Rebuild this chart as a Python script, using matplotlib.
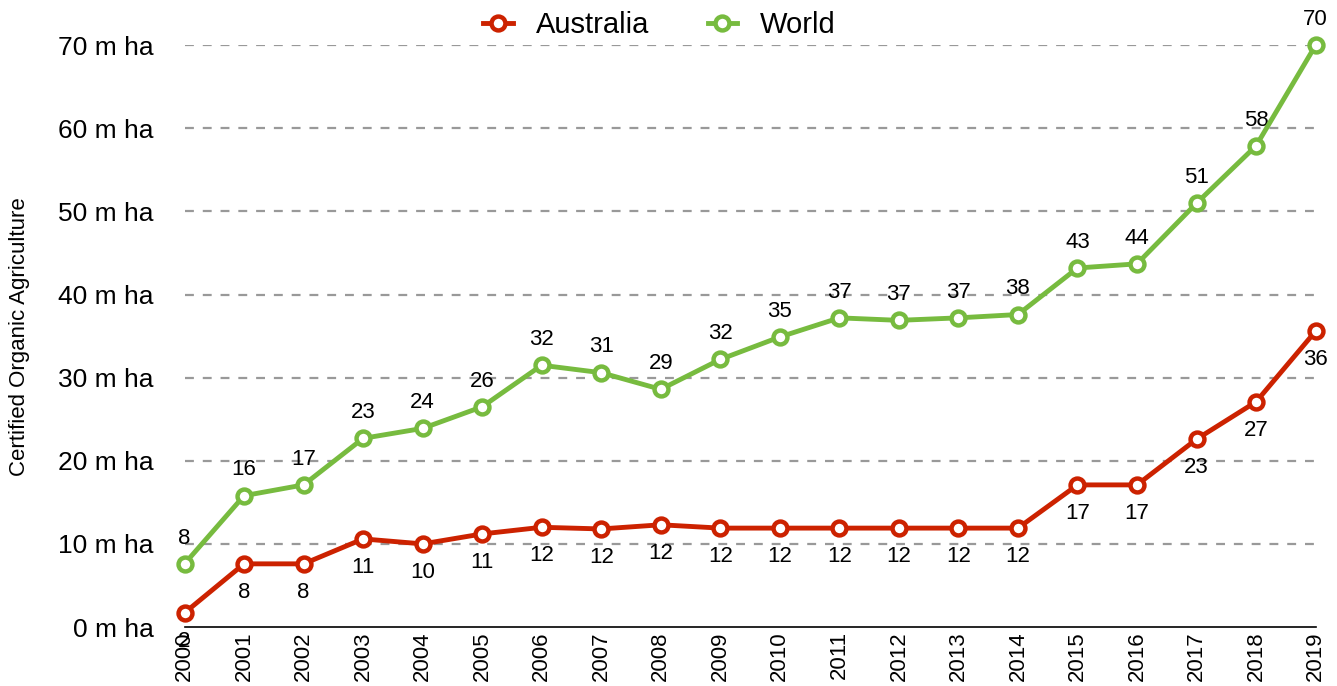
import numpy as np
import matplotlib.pyplot as plt

years = list(range(2000, 2020))
australia = [1.7, 7.6, 7.6, 10.6, 10.0, 11.2, 12.0, 11.8, 12.3, 11.9,
             11.9, 11.9, 11.9, 11.9, 11.9, 17.1, 17.1, 22.6, 27.1, 35.6]
world = [7.6, 15.8, 17.1, 22.7, 23.9, 26.5, 31.5, 30.6, 28.6, 32.2,
         34.9, 37.2, 36.9, 37.2, 37.6, 43.2, 43.7, 51.0, 57.9, 70.0]
yticks = [0, 10, 20, 30, 40, 50, 60, 70]
ytick_labels = ['%d m ha' % v for v in yticks]

RED = '#cc2200'
GREEN = '#77bb3f'

plt.rcParams['font.family'] = ['Liberation Sans', 'DejaVu Sans']

fig = plt.figure(figsize=(13.37, 6.86), dpi=100)
ax = fig.add_axes([0.138, 0.086, 0.846, 0.848])

for vals, col, name in [(australia, RED, 'Australia'), (world, GREEN, 'World')]:
	ax.plot(years, vals, color=col, lw=3.5, marker='o', ms=10,
		mfc='white', mec=col, mew=3.2, clip_on=False, zorder=3, label=name)

# value labels: australia below, world above
for x, v in zip(years, australia):
	ax.annotate('%d' % round(v), (x, v), xytext=(0, -13), textcoords='offset points',
		ha='center', va='top', fontsize=16, zorder=2)
for x, v in zip(years, world):
	ax.annotate('%d' % round(v), (x, v), xytext=(0, 11), textcoords='offset points',
		ha='center', va='bottom', fontsize=16, zorder=2)

ax.set_xlim(2000, 2019)
ax.set_ylim(0, 70)
ax.set_xticks(years)
ax.set_xticklabels([str(y) for y in years], rotation=90, fontsize=16)
ax.set_yticks(yticks)
ax.set_yticklabels(ytick_labels, fontsize=19)
ax.tick_params(axis='both', length=0)
ax.tick_params(axis='y', pad=22)
ax.tick_params(axis='x', pad=3)

for v in yticks[1:]:
	ax.axhline(v, color='#999999', lw=1.6, ls=(0, (4, 4)), zorder=1)

for s in ['top', 'right', 'left']:
	ax.spines[s].set_visible(False)
ax.spines['bottom'].set_linewidth(1.2)

ylab_font = ['Liberation Sans Narrow', 'Liberation Sans', 'DejaVu Sans']
ax.set_ylabel('Certified Organic Agriculture', fontsize=16, family=ylab_font)
ax.yaxis.set_label_coords(-0.137, 0.5)

leg = ax.legend(loc='center', bbox_to_anchor=(0.42, 1.035), ncol=2, frameon=False,
	fontsize=21, handlelength=1.0, handletextpad=0.8, columnspacing=2.0, borderaxespad=0)

fig.savefig('out.png', dpi=100)
